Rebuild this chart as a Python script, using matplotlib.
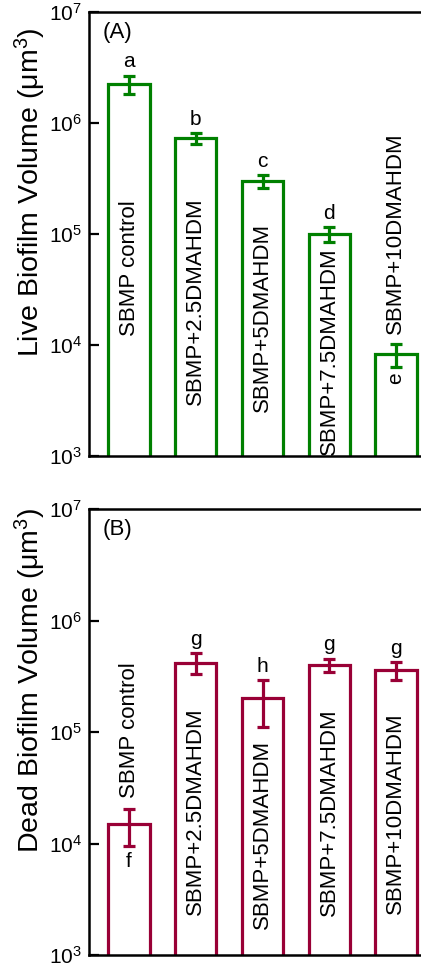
import matplotlib
matplotlib.use("Agg")
import matplotlib.pyplot as plt
import numpy as np

plt.rcParams['font.family'] = ['Liberation Sans', 'DejaVu Sans']
plt.rcParams['mathtext.fontset'] = 'custom'
plt.rcParams['mathtext.rm'] = 'Liberation Sans'
plt.rcParams['mathtext.it'] = 'Liberation Sans:italic'
plt.rcParams['mathtext.bf'] = 'Liberation Sans:bold'

# ---- data ----
groups = ["SBMP control", "SBMP+2.5DMAHDM", "SBMP+5DMAHDM", "SBMP+7.5DMAHDM", "SBMP+10DMAHDM"]
live_mean = [2.25e6, 7.3e5, 3.0e5, 1.0e5, 8.3e3]
live_err = [0.42e6, 0.8e5, 0.42e5, 0.15e5, 2.0e3]
live_letters = ["a", "b", "c", "d", "e"]
dead_mean = [1.5e4, 4.2e5, 2.0e5, 4.0e5, 3.6e5]
dead_err = [0.55e4, 0.9e5, 0.9e5, 0.55e5, 0.65e5]
dead_letters = ["f", "g", "h", "g", "g"]
yticks = [1e3, 1e4, 1e5, 1e6, 1e7]

# ---- layout (not data) ----
W, H = 421, 966
fig = plt.figure(figsize=(W / 100, H / 100), dpi=100)
ax_left = 89 / W
ax_w = (436 - 89) / W
axA = fig.add_axes([ax_left, 1 - 456 / H, ax_w, (456 - 12) / H])
axB = fig.add_axes([ax_left, 1 - 955 / H, ax_w, (955 - 509) / H])

green = '#008000'
maroon = '#990036'

panels = [
    (axA, live_mean, live_err, live_letters, green, "(A)", "Live Biofilm Volume (μm$^{3}$)",
     [0.577, 0.583, 0.525, 0.471, 0.730], [False, False, False, False, True], 192),
    (axB, dead_mean, dead_err, dead_letters, maroon, "(B)", "Dead Biofilm Volume (μm$^{3}$)",
     [0.657, 0.556, 0.482, 0.554, 0.545], [True, False, False, False, False], 680),
]

x = np.arange(len(groups))
for ax, mean, err, letters, col, tag, ylab, label_tops, letter_below, ylab_y in panels:
    ax.set_yscale('log')
    ax.set_ylim(1e3, 1e7)
    ax.set_xlim(-0.6, 4.6)
    ax.bar(x, mean, width=0.62, bottom=1, fill=False, edgecolor=col, linewidth=2.3)
    ax.errorbar(x, mean, yerr=err, fmt='none', ecolor=col, elinewidth=2.3,
                capsize=4.2, capthick=2.3)
    for i in range(len(groups)):
        top = mean[i] + err[i]
        bot = mean[i] - err[i]
        if letter_below[i]:
            ax.annotate(letters[i], (x[i], bot), xytext=(0, -4), textcoords='offset points',
                        ha='center', va='top', fontsize=15,
                        rotation=90 if ax is axA else 0)
        else:
            ax.annotate(letters[i], (x[i], top), xytext=(0, 3), textcoords='offset points',
                        ha='center', va='bottom', fontsize=15)
        ax.text(x[i], label_tops[i], groups[i], transform=ax.get_xaxis_transform(),
                rotation=90, ha='center', va='top', fontsize=16)
    ax.set_yticks(yticks)
    ax.minorticks_off()
    ax.tick_params(axis='y', direction='in', length=7, width=1.6, labelsize=15, pad=5)
    ax.set_xticks([])
    for s in ['left', 'bottom', 'top', 'right']:
        ax.spines[s].set_linewidth(1.8)
    ax.text(0.04, 0.953, tag, transform=ax.transAxes, fontsize=16, ha='left', va='center')
    fig.text(30 / W, 1 - ylab_y / H, ylab, rotation=90, ha='center', va='center', fontsize=20.5)

fig.savefig('out.png', dpi=100)
